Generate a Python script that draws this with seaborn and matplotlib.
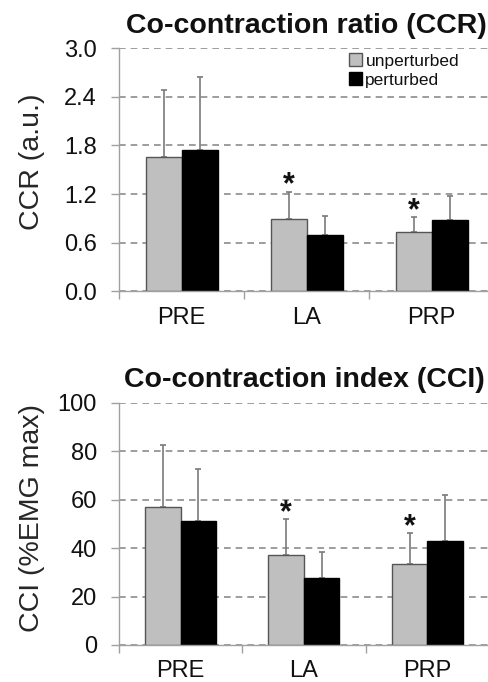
import numpy as np
import pandas as pd
import matplotlib
matplotlib.use("Agg")
import matplotlib.pyplot as plt
import seaborn as sns
from matplotlib.ticker import MultipleLocator, FixedLocator, FormatStrFormatter

# data (means and upper SD)
phases = ["PRE", "LA", "PRP"]
conditions = ["unperturbed", "perturbed"]

ccr_unpert = [1.66, 0.89, 0.73]
ccr_pert = [1.74, 0.70, 0.88]
ccr_unpert_sd = [0.82, 0.34, 0.19]
ccr_pert_sd = [0.90, 0.23, 0.30]

cci_unpert = [57.0, 37.0, 33.5]
cci_pert = [51.0, 27.5, 43.0]
cci_unpert_sd = [25.5, 15.0, 12.7]
cci_pert_sd = [21.5, 11.0, 19.0]

# * marks above the unperturbed bars
signif = [False, True, True]

sns.set_style("white")
plt.rcParams["font.family"] = ["Liberation Sans", "DejaVu Sans"]
plt.rcParams["text.color"] = "#111111"
plt.rcParams["xtick.color"] = "#a0a0a0"
plt.rcParams["ytick.color"] = "#a0a0a0"
plt.rcParams["xtick.labelcolor"] = "#111111"
plt.rcParams["ytick.labelcolor"] = "#111111"

fig = plt.figure(figsize=(4.88, 6.82), dpi=100)
ax1 = fig.add_axes([0.2439, 0.5726, 0.7684, 0.357])
ax2 = fig.add_axes([0.2439, 0.0543, 0.758, 0.3553])


def draw_panel(ax, unpert, pert, unpert_sd, pert_sd, title, ylabel, ymax, step, fmt, show_legend):
    df = pd.DataFrame({
        "phase": phases * 2,
        "cond": [conditions[0]] * 3 + [conditions[1]] * 3,
        "value": unpert + pert,
    })
    sns.barplot(data=df, x="phase", y="value", hue="cond", hue_order=conditions,
                palette={"unperturbed": "#bfbfbf", "perturbed": "#000000"},
                saturation=1, width=0.576, errorbar=None, linewidth=1, ax=ax)
    edges = ["#555555", "#000000"]
    for cont, sds, ec in zip(ax.containers, [unpert_sd, pert_sd], edges):
        for b in cont:
            b.set_edgecolor(ec)
            b.set_zorder(2)
        xs = [b.get_x() + b.get_width() / 2 for b in cont]
        hs = [b.get_height() for b in cont]
        # upper SD only; the lower cap sits under the bar
        ax.errorbar(xs, hs, yerr=[np.zeros(len(sds)), sds], fmt="none",
                    ecolor="#7a7a7a", elinewidth=1.2, capsize=2, capthick=1.2, zorder=1.5)

    # significance stars
    for b, sd, s in zip(ax.containers[0], unpert_sd, signif):
        if s:
            x = b.get_x() + b.get_width() / 2
            ax.annotate("*", (x, b.get_height() + sd), xytext=(0, -1.5),
                        textcoords="offset points", ha="center", va="baseline",
                        fontsize=22, fontweight="bold", color="#111111")

    ax.set_xlim(-0.5, 2.5)
    ax.set_ylim(0, ymax)
    ax.yaxis.set_major_locator(MultipleLocator(step))
    ax.yaxis.set_major_formatter(FormatStrFormatter(fmt))
    ax.xaxis.set_minor_locator(FixedLocator([-0.5, 0.5, 1.5, 2.5]))
    ax.tick_params(axis="x", which="major", length=0, pad=11, labelsize=17)
    ax.tick_params(axis="x", which="minor", length=6, width=1, bottom=True)
    ax.tick_params(axis="y", length=6, width=1, pad=10, labelsize=17, left=True)
    ax.set_axisbelow(True)
    ax.yaxis.grid(True, linestyle=(0, (4, 3)), color="#8c8c8c", linewidth=1.2)
    for side in ["top", "right"]:
        ax.spines[side].set_visible(False)
    for side in ["left", "bottom"]:
        ax.spines[side].set_color("#a0a0a0")
        ax.spines[side].set_linewidth(1)

    ax.set_xlabel("")
    ax.set_ylabel(ylabel, fontsize=20.5)
    ax.set_title(title, fontsize=20.5, fontweight="bold", pad=11)

    leg = ax.get_legend()
    if leg is not None:
        leg.remove()
    if show_legend:
        ax.legend([ax.containers[0], ax.containers[1]], conditions,
                  loc="upper left", bbox_to_anchor=(0.613, 0.978),
                  frameon=False, fontsize=12.5, handlelength=0.75, handleheight=0.75,
                  handletextpad=0.2, labelspacing=0.2, borderpad=0, borderaxespad=0)


draw_panel(ax1, ccr_unpert, ccr_pert, ccr_unpert_sd, ccr_pert_sd,
           "Co-contraction ratio (CCR)", "CCR (a.u.)", 3.0, 0.6, "%.1f", True)
draw_panel(ax2, cci_unpert, cci_pert, cci_unpert_sd, cci_pert_sd,
           "Co-contraction index (CCI)", "CCI (%EMG max)", 100, 20, "%d", False)

ax1.yaxis.set_label_coords(-0.197, 0.534)
ax2.yaxis.set_label_coords(-0.2, 0.524)

fig.savefig("out.png", dpi=100)
